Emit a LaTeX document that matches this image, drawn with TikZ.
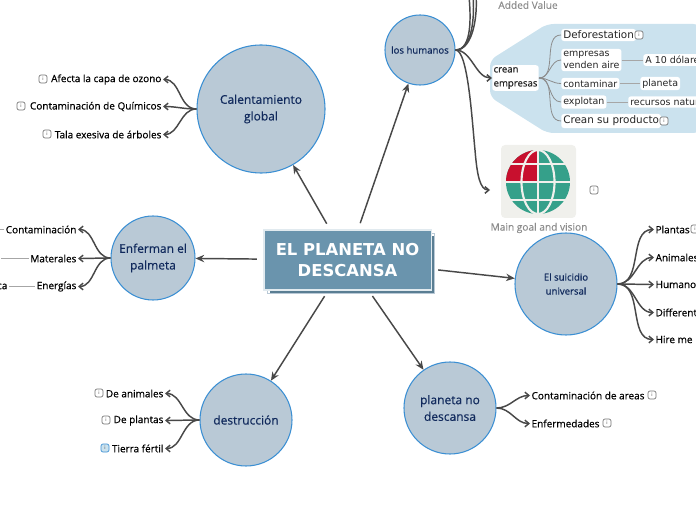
\documentclass[tikz,border=0pt]{standalone}
\usepackage{fontspec}
\usetikzlibrary{arrows.meta,calc}
\setmainfont{DejaVu Sans}
\newfontfamily\leaffont[FakeBold=0.55]{Open Sans}
\newfontfamily\topicfont[FakeBold=0.3]{Open Sans}
\newfontfamily\capfont[FakeBold=0.2]{Open Sans}
\definecolor{topicfill}{HTML}{B9C9D6}
\definecolor{topicline}{HTML}{3B8FD3}
\definecolor{navy}{HTML}{10295C}
\definecolor{mainfill}{HTML}{6A94AD}
\definecolor{panel}{HTML}{CBE2EE}
\definecolor{linedark}{HTML}{484848}
\definecolor{teal}{HTML}{35A08A}
\definecolor{crimson}{HTML}{C8102E}
\definecolor{imgback}{HTML}{F0F0EC}
\tikzset{
  x=0.75pt,y=-0.75pt,
  topic/.style={circle,draw=topicline,fill=topicfill,line width=0.8pt,minimum size=#1*0.75pt,inner sep=0pt,align=center,text=navy,font=\topicfont\fontsize{9}{12.5}\selectfont},
  smalltopic/.style={font=\leaffont\fontsize{7.2}{10.5}\selectfont},
  leafl/.style={anchor=east,inner sep=1pt,font=\leaffont\fontsize{7.5}{10}\selectfont,text=black},
  leafr/.style={anchor=west,inner sep=1pt,font=\leaffont\fontsize{7.5}{10}\selectfont,text=black},
  whitebox/.style={fill=white,rounded corners=2pt,anchor=west,inner xsep=1.5pt,inner ysep=1.5pt,align=left,font=\fontsize{7.1}{9.6}\selectfont,text=black!85},
  bigbox/.style={whitebox,font=\fontsize{7.8}{11}\selectfont},
  main arrow/.style={draw=linedark,line width=1.1pt,-{Stealth[length=6.5pt,width=5.5pt]}},
  branch/.style={draw=linedark,line width=1.1pt,-{Straight Barb[length=3pt,width=5pt]}},
  subbranch/.style={draw=black!45,line width=0.6pt},
  plainlink/.style={draw=black!35,line width=0.6pt},
  infoicon/.style={draw=black!55,fill=white,rounded corners=1.5pt,minimum size=6pt,inner sep=0pt,line width=0.5pt,font=\fontsize{3.5}{4}\selectfont,text=black!70},
  greycap/.style={font=\capfont\fontsize{7.6}{10}\selectfont,text=black!45},
}
\begin{document}
\begin{tikzpicture}
\path[use as bounding box] (0,0) rectangle (696,520);
\clip (0,0) rectangle (696,520);
% panel
\fill[panel,rounded corners=5pt] (700,24) -- (547,24) -- (490,60) -- (490,97) -- (547,133) -- (700,133) -- cycle;
% main
\fill[white,draw=topicfill,line width=0.4pt] (267,233) rectangle (434,293);
\fill[mainfill!85!black] (270,236) rectangle (434,293);
\node[draw=white!80!mainfill,line width=0.8pt,fill=mainfill,minimum width=125.3pt,minimum height=45pt,inner sep=0pt,align=center,text=white,font=\bfseries\fontsize{12.3}{16}\selectfont] (mainn) at (347.5,260) {EL PLANETA NO\\DESCANSA};
% topics
\node[topic=128] (cal) at (261,109) {Calentamiento\\global};
\node[topic=70,smalltopic] (hum) at (420,50) {los humanos};
\node[topic=84] (enf) at (153,258) {Enferman el\\palmeta};
\node[topic=102,smalltopic] (sui) at (566,284) {El suicidio\\universal};
\node[topic=92] (des) at (246,420) {destrucción};
\node[topic=92] (pla) at (450,408) {planeta no\\descansa};
% main connectors
\foreach \t in {cal,hum,enf,sui,des,pla}
  \draw[main arrow,shorten <=5pt] (mainn) -- (\t);
% left leaves
\node[leafl] (a1) at (163,79.5) {Afecta la capa de ozono};
\node[leafl] (a2) at (163,106.5) {Contaminación de Químicos};
\node[leafl] (a3) at (163,134.5) {Tala exesiva de árboles};
\node[infoicon] (ia1) at (43,79) {i};
\node[infoicon] (ia2) at (21,106) {i};
\node[infoicon] (ia3) at (47,134) {i};
\foreach \l in {a1,a2,a3} \draw[branch] (cal.west) to[out=180,in=0] (\l.east);
% enferman leaves
\node[leafl] (b1) at (78,229.5) {Contaminación};
\node[leafl] (b2) at (78,258.5) {Materales};
\node[leafl] (b3) at (78,286.5) {Energías};
\foreach \l in {b1,b2,b3} \draw[branch] (enf.west) to[out=180,in=0] (\l.east);
\coordinate (bl1) at (-2,229.5);
\node[leafl] (bl2) at (1,258.5) {o};
\node[leafl] (bl3) at (9,286.5) {ca};
\draw[plainlink] (bl1) -- (b1);
\draw[plainlink] (bl2) -- (b2);
\draw[plainlink] (bl3) -- (b3);
% destruccion leaves
\node[leafl] (c1) at (165,393.5) {De animales};
\node[leafl] (c2) at (165,420.5) {De plantas};
\node[leafl] (c3) at (165,448.5) {Tierra fértil};
\node[infoicon] (ic1) at (99,393) {i};
\node[infoicon] (ic2) at (106,420) {i};
\node[infoicon,draw=topicline,fill=panel] (ic3) at (105,448) {i};
\foreach \l in {c1,c2,c3} \draw[branch] (des.west) to[out=180,in=0] (\l.east);
% planeta leaves
\node[leafr] (d1) at (530,395.5) {Contaminación de areas};
\node[leafr] (d2) at (530,423.5) {Enfermedades};
\node[infoicon] (id1) at (652,395) {i};
\node[infoicon] (id2) at (607,423) {i};
\foreach \l in {d1,d2} \draw[branch] (pla.east) to[out=0,in=180] (\l.west);
% suicidio leaves
\node[leafr] (e1) at (654,229.5) {Plantas};
\node[leafr] (e2) at (654,257.5) {Animales};
\node[leafr] (e3) at (654,284.5) {Humanos};
\node[leafr] (e4) at (654,312.5) {Different};
\node[leafr] (e5) at (654,339.5) {Hire me I};
\node[infoicon] (ie1) at (695,229) {i};
\foreach \l in {e1,e2,e3,e4,e5} \draw[branch] (sui.east) to[out=0,in=180] (\l.west);
% humanos
\node[whitebox,font=\leaffont\fontsize{7.2}{10.5}\selectfont,inner xsep=1pt] (cre) at (492,78) {crean\\empresas};
\draw[branch] (hum.east) to[out=0,in=180,looseness=0.9] (cre.west);
\coordinate (up1) at (469,-4);
\coordinate (up2) at (473,-4);
\coordinate (up3) at (476,-4);
\foreach \u in {up1,up2,up3} \draw[draw=linedark,line width=1.1pt] (hum.east) to[out=0,in=-85,looseness=0.8] (\u);
\node[greycap] (added) at (528,5) {Added Value};
% panel items
\node[bigbox] (p1) at (561,35) {Deforestation};
\node[whitebox] (p2) at (561,60) {empresas\\venden aire};
\node[whitebox] (p3) at (561,83.5) {contaminar};
\node[whitebox] (p4) at (561,102) {explotan};
\node[bigbox] (p5) at (561,121) {Crean su producto};
\node[whitebox] (q2) at (643,60) {A 10 dólares};
\node[whitebox] (q3) at (640,83.5) {planeta};
\node[whitebox] (q4) at (628,102) {recursos naturales};
\node[infoicon] (ip1) at (639,35) {i};
\node[infoicon] (ip5) at (664,121) {i};
\foreach \l in {p1,p2,p3,p4,p5} \draw[subbranch] (cre.east) to[out=0,in=180] (\l.west);
\draw[plainlink] (p2) -- (q2);
\draw[plainlink] (p3) -- (q3);
\draw[plainlink] (p4) -- (q4);
% image
\fill[imgback,rounded corners=3pt] (501,145) rectangle (576,218);
\begin{scope}
\clip (538,182) circle[radius=32];
\fill[teal] (506,150) rectangle (570,214);
\fill[crimson] (506,150) rectangle (537,181);
\end{scope}
\begin{scope}[draw=imgback,line width=1.6pt]
\draw (538,150) -- (538,214);
\draw (506,182) -- (570,182);
\draw (538,182) ellipse[x radius=16.5,y radius=32];
\draw (511,164) -- (565,164);
\draw (511,200) -- (565,200);
\end{scope}
\node[greycap] (mgv) at (539,228) {Main goal and vision};
\node[infoicon] (iimg) at (594,190) {i};
\coordinate (imgin) at (490,190);
\draw[branch] (hum.east) .. controls (468,50) and (472,120) .. (475,150) .. controls (477,175) and (480,190) .. (imgin);
\end{tikzpicture}
\end{document}
